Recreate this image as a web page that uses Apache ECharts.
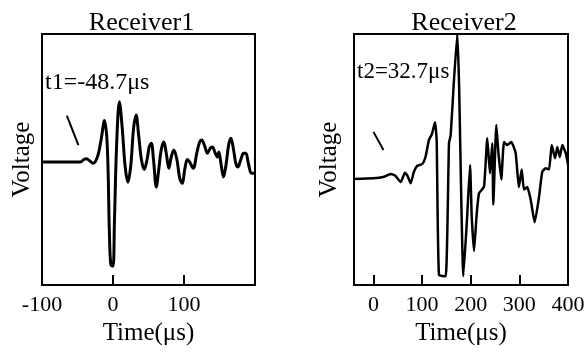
<!DOCTYPE html>
<html>
<head>
<meta charset="utf-8">
<script src="https://cdn.jsdelivr.net/npm/echarts@6/dist/echarts.min.js"></script>
<style>html,body{margin:0;padding:0;background:#fff;}#c{width:588px;height:352px;}</style>
</head>
<body>
<div id="c"></div>
<script>
// ---- data ----
const titles = ['Receiver1', 'Receiver2'];
const annotations = ['t1=-48.7μs', 't2=32.7μs'];
const xName = 'Time(μs)';
const yName = 'Voltage';
const xLabels1 = [-100, 0, 100];
const xTicks1 = [0, 100];
const xLabels2 = [0, 100, 200, 300, 400];
const xTicks2 = [0, 100, 200, 300];
// Receiver1 trace [time(μs), voltage(a.u.)]
const receiver1 = [
  [-100,-0.02],[-60,-0.02],[-46,-0.02],[-41,0.0],[-37,0.005],[-33,-0.01],[-28,-0.03],[-22,0.02],[-17,0.15],[-12,0.31],[-8,0.1],
  [-5,-0.6],[-3,-0.84],[0,-0.85],[2,-0.5],[5,0.1],[9,0.46],[13,0.25],[17,-0.05],[21,-0.18],[25,-0.05],[29,0.25],[32.5,0.355],
  [36,0.2],[40,0.0],[44,-0.08],[48,0.0],[51,0.1],[54,0.13],[57,0.0],[61,-0.22],[64,-0.1],[68,0.08],[71.6,0.14],[75,0.05],[78.7,-0.07],
  [82,0.02],[85.7,0.076],[90,0.0],[94,-0.15],[97.6,-0.19],[101,-0.08],[104.7,0.0],[108,-0.02],[113,-0.07],[118,0.05],[122,0.14],[125,0.155],
  [129,0.11],[133,0.05],[137,0.09],[140,0.1],[144,0.05],[147,0.02],[149,0.06],[152,-0.03],[155.6,-0.14],[159,-0.05],[163,0.12],[166,0.17],
  [170,0.07],[173,-0.03],[176,-0.06],[180,0.0],[184,0.05],[187,0.05],[191,-0.04],[195,-0.11],[200,-0.11]
];
// Receiver2 trace [time(μs), voltage(a.u.)]
const receiver2 = [
  [-40,-0.155],[0,-0.15],[20,-0.14],[35.4,-0.115],[45,-0.13],[56,-0.18],[64.8,-0.105],[70,-0.13],[76.5,-0.19],[83,-0.1],[90,-0.05],
  [100.5,-0.036],[107,0.02],[114,0.155],[120,0.2],[126.5,0.296],[130,0.15],[134.7,-0.92],[148.5,-0.93],[155.3,0.13],[158.8,0.195],
  [165,0.6],[172.4,1.0],[176,0.6],[184.8,-0.93],[192,-0.5],[198.6,-0.044],[202,-0.45],[206.8,-0.73],[212,-0.45],[217,-0.27],[227.3,-0.217],
  [234,0.17],[239.6,-0.11],[244.4,0.13],[246.4,-0.36],[252.6,0.275],[257,0.05],[262.8,-0.16],[268.4,0.14],[275,0.115],[283.4,0.14],
  [292.4,0.05],[299,-0.22],[304.8,-0.08],[309.5,-0.24],[316.3,-0.22],[323.3,-0.32],[331.5,-0.5],[340.4,-0.3],[347,-0.1],[354,-0.07],
  [361,-0.08],[366.5,0.115],[373.3,0.01],[378,0.1],[383,0.02],[388.3,0.115],[395.4,0.05],[400,-0.04]
];
// onset pointer marks [time, voltage]
const pointer1 = [[-65,0.35],[-48.7,0.115]];
const pointer2 = [[0,0.22],[20.6,0.076]];

// ---- chart ----
const FONT = '"Liberation Serif", "Times New Roman", serif';
const chart = echarts.init(document.getElementById('c'), null, {renderer: 'canvas'});
function xAxisCfg(idx, min, max, labels, ticks) {
  return {
    type: 'value', gridIndex: idx, min: min, max: max, z: 10,
    name: xName, nameLocation: 'middle', nameGap: 36,
    nameTextStyle: {fontFamily: FONT, fontSize: 25, color: '#000'},
    axisLine: {show: true, onZero: false, lineStyle: {color: '#000', width: 2}},
    axisTick: {show: true, inside: true, length: 10, lineStyle: {color: '#000', width: 2}, customValues: ticks},
    axisLabel: {show: true, fontFamily: FONT, fontSize: 22, color: '#000', margin: 9, customValues: labels},
    splitLine: {show: false}
  };
}
function yAxisCfg(idx, gap) {
  return {
    type: 'value', gridIndex: idx, min: -1, max: 1,
    name: yName, nameLocation: 'middle', nameGap: gap, nameRotate: 90,
    nameTextStyle: {fontFamily: FONT, fontSize: 25, color: '#000'},
    axisLine: {show: true, onZero: false, lineStyle: {color: '#000', width: 2}},
    axisTick: {show: false}, axisLabel: {show: false}, splitLine: {show: false}
  };
}
function lineSeries(idx, data, w, smooth) {
  return {
    type: 'line', xAxisIndex: idx, yAxisIndex: idx, data: data, symbol: 'none', smooth: smooth,
    lineStyle: {color: '#000', width: w}, clip: true, animation: false
  };
}
chart.setOption({
  backgroundColor: '#fff',
  animation: false,
  grid: [
    {left: 42, top: 34, width: 213, height: 251, show: true, borderColor: '#000', borderWidth: 2, backgroundColor: 'transparent'},
    {left: 354, top: 34, width: 214, height: 251, show: true, borderColor: '#000', borderWidth: 2, backgroundColor: 'transparent'}
  ],
  xAxis: [xAxisCfg(0, -100, 200, xLabels1, xTicks1), xAxisCfg(1, -40, 400, xLabels2, xTicks2)],
  yAxis: [yAxisCfg(0, 7), yAxisCfg(1, 12)],
  series: [
    lineSeries(0, receiver1, 3, 0.35),
    lineSeries(1, receiver2, 2.5, 0.15),
    lineSeries(0, pointer1, 2, false),
    lineSeries(1, pointer2, 2, false)
  ],
  graphic: [
    {type: 'text', x: 141.5, y: 23, style: {text: titles[0], font: '26px ' + FONT, fill: '#000', align: 'center', verticalAlign: 'middle'}},
    {type: 'text', x: 464, y: 23, style: {text: titles[1], font: '26px ' + FONT, fill: '#000', align: 'center', verticalAlign: 'middle'}},
    {type: 'text', x: 45, y: 83, style: {text: annotations[0], font: '24px ' + FONT, fill: '#000', align: 'left', verticalAlign: 'middle'}},
    {type: 'text', x: 357, y: 72, style: {text: annotations[1], font: '23px ' + FONT, fill: '#000', align: 'left', verticalAlign: 'middle'}}
  ]
});
</script>
</body>
</html>
